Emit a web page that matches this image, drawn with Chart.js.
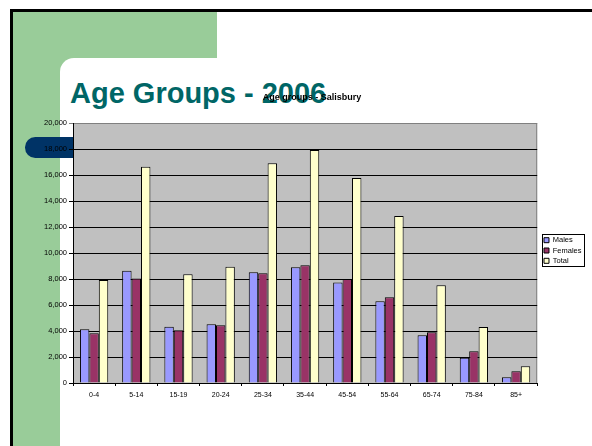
<!DOCTYPE html>
<html><head><meta charset="utf-8">
<script src="https://cdn.jsdelivr.net/npm/chart.js@4/dist/chart.umd.min.js"></script>
<style>
html,body{margin:0;padding:0;background:#fff;}
body{width:592px;height:446px;position:relative;overflow:hidden;font-family:"Liberation Sans",Arial,sans-serif;}
#frame{position:absolute;left:10px;top:9px;right:-10px;bottom:-10px;border-left:3px solid #000;border-top:3px solid #000;}
#green{position:absolute;left:13px;top:12px;width:204px;height:434px;background:#99CC99;}
#card{position:absolute;left:60px;top:58px;right:0;bottom:0;background:#fff;border-top-left-radius:14px;}
#pill{position:absolute;left:25px;top:137px;width:70px;height:20.5px;background:#003366;border-radius:10.25px 0 0 10.25px;}
#title{position:absolute;left:70px;top:78.5px;font-size:29px;line-height:29px;font-weight:bold;color:#006666;white-space:nowrap;}
#c{position:absolute;left:0;top:0;width:592px;height:446px;}
</style>
</head>
<body>
<div id="frame"></div>
<div id="green"></div>
<div id="card"></div>
<div id="pill"></div>
<div id="title">Age Groups - 2006</div>
<canvas id="c" width="592" height="446"></canvas>
<script>
const categories = ['0-4','5-14','15-19','20-24','25-34','35-44','45-54','55-64','65-74','75-84','85+'];
const males   = [4130, 8640, 4330, 4510, 8510, 8900, 7740, 6280, 3670, 1950, 440];
const females = [3820, 8030, 4050, 4440, 8440, 9050, 8000, 6590, 3900, 2440, 900];
const totals  = [7920, 16640, 8360, 8950, 16900, 17920, 15770, 12850, 7510, 4310, 1280];
const seriesNames = ['Males', 'Females', 'Total'];
const chartTitle = 'Age groups - Salisbury';

const F = '"Liberation Sans", Arial, sans-serif';
const LEGEND_SHIFT = 4;

const plotBg = {
  id: 'plotBg',
  beforeDraw(chart) {
    const {ctx, chartArea: a} = chart;
    ctx.save();
    ctx.fillStyle = '#C0C0C0';
    ctx.fillRect(a.left, a.top, a.right - a.left, a.bottom - a.top);
    ctx.strokeStyle = '#808080';
    ctx.lineWidth = 1;
    ctx.strokeRect(a.left + 0.5, a.top + 0.5, a.right - a.left - 1, a.bottom - a.top);
    ctx.restore();
    if (chart.legend) { chart.legend.left = a.right + LEGEND_SHIFT; }
  },
  afterDraw(chart) {
    const lg = chart.legend;
    if (!lg || !lg.legendHitBoxes || !lg.legendHitBoxes.length) return;
    let l = Infinity, t = Infinity, r = -Infinity, b = -Infinity;
    lg.legendHitBoxes.forEach(h => {
      l = Math.min(l, h.left); t = Math.min(t, h.top);
      r = Math.max(r, h.left + h.width); b = Math.max(b, h.top + h.height);
    });
    const off = (lg.left - chart.chartArea.right) - (l - 2.8 - chart.chartArea.right);
    l += off; r += off;
    const ctx = chart.ctx;
    ctx.save();
    ctx.strokeStyle = '#000';
    ctx.lineWidth = 1;
    ctx.strokeRect(Math.round(l - 2) + 0.5, Math.round(t - 2) + 0.5, Math.round(r - l + 4), Math.round(b - t + 4));
    ctx.restore();
  }
};

new Chart(document.getElementById('c'), {
  type: 'bar',
  data: {
    labels: categories,
    datasets: [
      {label: seriesNames[0], data: males, backgroundColor: '#9999FF'},
      {label: seriesNames[1], data: females, backgroundColor: '#993366'},
      {label: seriesNames[2], data: totals, backgroundColor: '#FFFFCC'}
    ].map(d => Object.assign(d, {borderColor: '#000', borderWidth: 1, barPercentage: 1, categoryPercentage: 0.67}))
  },
  options: {
    responsive: false,
    animation: false,
    layout: {padding: {left: 36.5, right: 4.5, top: 88, bottom: 33}},
    plugins: {
      title: {display: true, text: chartTitle, color: '#000', font: {family: F, size: 9, weight: 'bold'}, padding: {top: 4.6, bottom: 19.6}},
      legend: {position: 'right', align: 'center', labels: {boxWidth: 5, boxHeight: 5, padding: 2.8, color: '#000', font: {family: F, size: 7.5}}},
      tooltip: {enabled: false}
    },
    scales: {
      x: {
        grid: {display: true, drawOnChartArea: false, drawTicks: true, tickLength: 3, color: '#000', offset: true},
        border: {display: true, color: '#000'},
        ticks: {color: '#000', font: {family: F, size: 7}, padding: 5, maxRotation: 0, autoSkip: false},
        afterFit: s => { s.height = 30; }
      },
      y: {
        min: 0, max: 20000,
        ticks: {stepSize: 2000, color: '#000', font: {family: F, size: 7.5}, padding: 2, callback: v => v.toLocaleString('en-US')},
        grid: {color: c => (c.tick && c.tick.value === 20000) ? '#808080' : '#000', tickLength: 4},
        border: {color: '#000'},
        afterFit: s => { s.width = 36.5; }
      }
    }
  },
  plugins: [plotBg]
});
</script>
</body></html>
